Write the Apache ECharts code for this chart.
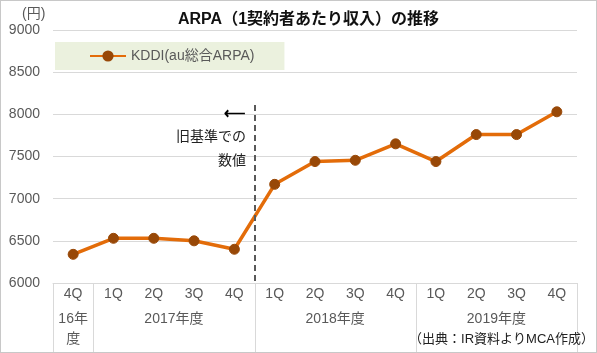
<!DOCTYPE html>
<html>
<head>
<meta charset="utf-8">
<script src="https://cdn.jsdelivr.net/npm/echarts@6/dist/echarts.min.js"></script>
<style>
  html, body { margin: 0; padding: 0; background: #fff; }
  #chart { width: 595px; height: 351px; border: 1px solid #c8c8c8; }
</style>
</head>
<body>
<div id="chart"></div>
<script>
// chart data
const periods = ["FY16-4Q", "FY17-1Q", "FY17-2Q", "FY17-3Q", "FY17-4Q", "FY18-1Q", "FY18-2Q",
  "FY18-3Q", "FY18-4Q", "FY19-1Q", "FY19-2Q", "FY19-3Q", "FY19-4Q"];
const quarterLabels = ["4Q", "1Q", "2Q", "3Q", "4Q", "1Q", "2Q", "3Q", "4Q", "1Q", "2Q", "3Q", "4Q"];
const yearLabels = ["16年\n度", "2017年度", "2018年度", "2019年度"];
const yearSizes = [1, 4, 4, 4];
const arpa = [6340, 6530, 6530, 6500, 6400, 7170, 7440, 7455, 7650, 7440, 7760, 7760, 8030];
const seriesName = "KDDI(au総合ARPA)";
const yTicks = { min: 6000, max: 9000, step: 500 };
const oldBasisEnd = 4; // last index reported on the old basis

const FONT = "'Liberation Sans', 'Noto Sans CJK JP', sans-serif";
const TXT = "#595959";

const chart = echarts.init(document.getElementById("chart"), null, { renderer: "canvas" });

chart.setOption({
  animation: false,
  textStyle: { fontFamily: FONT },
  title: {
    text: "ARPA（1契約者あたり収入）の推移",
    left: 172,
    top: 6,
    textStyle: { fontSize: 16, fontWeight: "bold", color: "#111", fontFamily: FONT },
  },
  legend: {
    left: 54,
    top: 41,
    backgroundColor: "#ebf1de",
    padding: [7, 30, 7, 34],
    itemWidth: 36,
    itemHeight: 14,
    itemGap: 4,
    textStyle: { color: TXT, fontSize: 14, fontFamily: FONT },
    data: [seriesName],
  },
  grid: { left: 52, right: 19, top: 29, bottom: 69, containLabel: false },
  xAxis: {
    type: "category",
    data: periods,
    boundaryGap: true,
    axisLine: { lineStyle: { color: "#d9d9d9" } },
    axisTick: { show: false },
    axisLabel: {
      color: TXT,
      fontSize: 14,
      margin: 4,
      formatter: (v, i) => quarterLabels[i],
    },
  },
  yAxis: {
    type: "value",
    min: yTicks.min,
    max: yTicks.max,
    interval: yTicks.step,
    axisLine: { show: false },
    axisTick: { show: false },
    axisLabel: { color: TXT, fontSize: 14, margin: 13, formatter: (v) => String(v) },
    splitLine: { lineStyle: { color: "#d9d9d9" } },
  },
  series: [
    {
      name: seriesName,
      type: "line",
      data: arpa,
      symbol: "circle",
      symbolSize: 10,
      lineStyle: { color: "#e36c09", width: 3.5 },
      itemStyle: { color: "#984807", borderColor: "#984807" },
    },
  ],
});

// separators, year labels, annotation placed from axis positions
const px = (i) => chart.convertToPixel({ xAxisIndex: 0 }, i);
const half = (px(1) - px(0)) / 2;
const axisY = chart.convertToPixel({ yAxisIndex: 0 }, yTicks.min);
const g = [];

let start = 0;
const bounds = [px(0) - half];
yearSizes.forEach((n, k) => {
  const end = start + n - 1;
  bounds.push(px(end) + half);
  g.push({
    type: "text",
    x: (px(start) + px(end)) / 2,
    y: axisY + 26,
    style: {
      text: yearLabels[k],
      fill: TXT,
      font: "14px " + FONT,
      textAlign: "center",
      lineHeight: 20,
    },
  });
  start = end + 1;
});
bounds.forEach((x) => {
  g.push({
    type: "line",
    shape: { x1: Math.round(x) + 0.5, y1: axisY, x2: Math.round(x) + 0.5, y2: 352 },
    style: { stroke: "#d9d9d9", lineWidth: 1 },
  });
});

const splitX = Math.round((px(oldBasisEnd) + px(oldBasisEnd + 1)) / 2);
g.push({
  type: "line",
  shape: { x1: splitX, y1: 104, x2: splitX, y2: axisY },
  style: { stroke: "#595959", lineWidth: 2, lineDash: [6, 4] },
  z: 10,
});
g.push({
  type: "text",
  x: splitX - 9,
  y: 105,
  style: { text: "⟵", fill: "#000", font: "bold 15px " + FONT, textAlign: "right" },
});
g.push({
  type: "text",
  x: splitX - 9,
  y: 124,
  style: {
    text: "旧基準での\n数値",
    fill: "#222",
    font: "14px " + FONT,
    textAlign: "right",
    lineHeight: 24,
  },
});
g.push({
  type: "text",
  x: 21,
  y: 6,
  style: { text: "(円)", fill: TXT, font: "14px " + FONT },
});
g.push({
  type: "text",
  x: 593,
  y: 332,
  style: { text: "（出典：IR資料よりMCA作成）", fill: "#222", font: "13px " + FONT, textAlign: "right" },
  z: 20,
});

chart.setOption({ graphic: g });
</script>
</body>
</html>
